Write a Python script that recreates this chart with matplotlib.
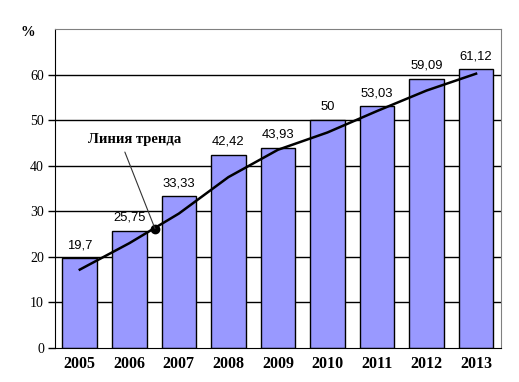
import matplotlib
matplotlib.use("Agg")
import matplotlib.pyplot as plt
import numpy as np

years = ["2005", "2006", "2007", "2008", "2009", "2010", "2011", "2012", "2013"]
values = [19.7, 25.75, 33.33, 42.42, 43.93, 50, 53.03, 59.09, 61.12]
value_labels = ["19,7", "25,75", "33,33", "42,42", "43,93", "50", "53,03", "59,09", "61,12"]
trend = [17.2, 23.0, 29.5, 37.5, 43.5, 47.3, 52.0, 56.5, 60.2]
yticks = [0, 10, 20, 30, 40, 50, 60]

fig = plt.figure(figsize=(5.19, 3.82), dpi=100)
ax = fig.add_axes([0.106, 0.089, 0.859, 0.835])
x = np.arange(len(years))

ax.set_axisbelow(True)
for t in yticks[1:]:
    ax.axhline(t, color="black", lw=1, zorder=0)
ax.bar(x, values, width=0.7, color="#9999FF", edgecolor="black", linewidth=1, zorder=2)
ax.plot(x, trend, color="black", lw=1.8, zorder=3)

for xi, v, lab in zip(x, values, value_labels):
    ax.annotate(lab, (xi, v), xytext=(0, 5), textcoords="offset points",
                ha="center", va="bottom", fontsize=9.4, family="Liberation Sans")

ax.set_xlim(-0.5, len(years) - 0.5)
ax.set_ylim(0, 70)
ax.set_yticks(yticks)
ax.set_xticks(x)
ax.set_xticklabels(years, fontsize=11.5, fontweight="bold", family="Liberation Serif")
for lab in ax.get_yticklabels():
    lab.set_fontsize(10)
    lab.set_family("Liberation Serif")
ax.tick_params(axis="x", length=0, pad=6)
ax.tick_params(axis="y", length=5, width=1, direction="out", pad=3)

for s in ["top", "right"]:
    ax.spines[s].set_color("#808080")
ax.spines["left"].set_color("black")
ax.spines["bottom"].set_color("black")

fig.text(28 / 519, 1 - 32 / 382, "%", ha="center", va="center", fontsize=10.5,
         fontweight="bold", family="Liberation Serif")

ax.plot([1.518], [26.2], "o", color="black", ms=6, zorder=5)
ax.text(1.11, 45.7, "Линия тренда", ha="center", va="center", fontsize=10.5,
        fontweight="bold", family="Liberation Serif", zorder=5)
ax.annotate("", xy=(1.518, 26.2), xytext=(0.91, 43.0),
            arrowprops=dict(arrowstyle="-", color="#333333", lw=0.8, shrinkA=0, shrinkB=0),
            zorder=5)

fig.savefig("out.png", dpi=100)
